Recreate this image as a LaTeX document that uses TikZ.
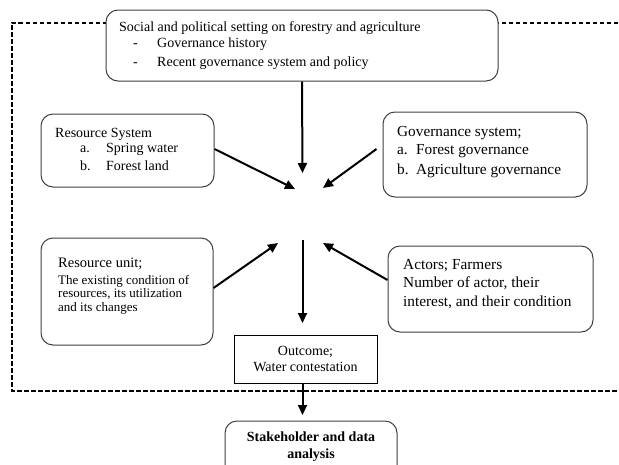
\documentclass[tikz,border=0pt]{standalone}
\usepackage{fontspec}
\setmainfont{Liberation Serif}
\usetikzlibrary{arrows.meta,calc}
\tikzset{
  rbox/.style={draw=black!75, line width=1pt, rounded corners=12pt, fill=white, inner sep=0pt},
  sbox/.style={draw=black, line width=1pt, fill=white, inner sep=0pt},
  txt/.style={anchor=base west, inner sep=0pt, font=\fontsize{14}{16}\selectfont},
  txtb/.style={anchor=base west, inner sep=0pt, font=\fontsize{15.3}{17}\selectfont},
  txts/.style={anchor=base west, inner sep=0pt, font=\fontsize{13}{15}\selectfont},
  ctxt/.style={anchor=base, inner sep=0pt, font=\fontsize{14}{16}\selectfont},
  arr/.style={line width=2pt, -{Triangle[length=10pt,width=9pt]}},
  frame/.style={line width=2pt, dash pattern=on 4.5pt off 2.5pt}
}
\begin{document}
\begin{tikzpicture}[x=1pt,y=-1pt]
\useasboundingbox (0,0) rectangle (619,464);
\clip (0,0) rectangle (619,464);
% dashed frame
\coordinate (fTR) at (625,22.7);
\coordinate (fTL) at (11.5,22.7);
\coordinate (fBL) at (11.5,390.5);
\coordinate (fBR) at (625,390.5);
\draw[frame] (fTR) -- (fTL) -- (fBL) -- (fBR);
% boxes
\node[rbox, minimum width=392pt, minimum height=71pt] (top) at (302,45.5) {};
\node[rbox, minimum width=173pt, minimum height=73pt] (rs) at (127.5,150.5) {};
\node[rbox, minimum width=204pt, minimum height=85pt] (gov) at (485,154.5) {};
\node[rbox, minimum width=172pt, minimum height=107pt] (ru) at (127,291.5) {};
\node[rbox, minimum width=205pt, minimum height=86pt] (act) at (490.5,289) {};
\node[sbox, minimum width=143pt, minimum height=48pt] (out) at (305.5,359) {};
\node[rbox, minimum width=172pt, minimum height=60pt] (stk) at (311,451) {};
% texts: top box
\node[txt] (t1) at (119,31.5) {Social and political setting on forestry and agriculture};
\node[txt] (t2d) at (133,47.5) {-};
\node[txt] (t2) at (157,47.5) {Governance history};
\node[txt] (t3d) at (133,66.5) {-};
\node[txt] (t3) at (157,66.5) {Recent governance system and policy};
% resource system
\node[txt] (r1) at (55,137.5) {Resource System};
\node[txt] (r2a) at (80,152.5) {a.};
\node[txt] (r2) at (106,152.5) {Spring water};
\node[txt] (r3a) at (80,170.5) {b.};
\node[txt] (r3) at (106,170.5) {Forest land};
% governance system
\node[txtb] (g1) at (397,136.5) {Governance system;};
\node[txtb] (g2a) at (397,154.5) {a.};
\node[txtb] (g2) at (416,154.5) {Forest governance};
\node[txtb] (g3a) at (397,174.5) {b.};
\node[txtb] (g3) at (416,174.5) {Agriculture governance};
% resource unit
\node[txt, font=\fontsize{14.5}{16}\selectfont] (u1) at (58,267.5) {Resource unit;};
\node[txts] (u2) at (58,284) {The existing condition of};
\node[txts] (u3) at (58,297.5) {resources, its utilization};
\node[txts] (u4) at (58,311) {and its changes};
% actors
\node[txtb] (a1) at (403,269.5) {Actors; Farmers};
\node[txtb] (a2) at (403,287.5) {Number of actor, their};
\node[txtb] (a3) at (403,306.5) {interest, and their condition};
% outcome
\node[ctxt] (o1) at (305.5,355.5) {Outcome;};
\node[ctxt] (o2) at (305.5,371.5) {Water contestation};
% stakeholder
\node[ctxt, font=\fontsize{14}{16}\selectfont\bfseries] (s1) at (311,441.5) {Stakeholder and data};
\node[ctxt, font=\fontsize{14}{16}\selectfont\bfseries] (s2) at (311,458.5) {analysis};
% arrow targets
\coordinate (tipTop) at (302.5,173);
\coordinate (tipL) at (295,189);
\coordinate (tipR) at (323,188);
\coordinate (tipUL) at (278,243);
\coordinate (tipUR) at (323,243);
\coordinate (downS) at (302.5,240);
\coordinate (downE) at (302.5,323);
\coordinate (outS) at (302.5,383);
\coordinate (tipS) at (302.5,415);
% connectors
\draw[arr] (top.south) -- (tipTop);
\draw[arr] ([yshift=1.5pt]rs.east) -- (tipL);
\draw[arr] ([xshift=-6pt,yshift=5.5pt]gov.west) -- (tipR);
\draw[arr] ([yshift=3.5pt]ru.east) -- (tipUL);
\draw[arr] ([yshift=9pt]act.west) -- (tipUR);
\draw[arr] (downS) -- (downE);
\draw[arr] (outS) -- (tipS);
\end{tikzpicture}
\end{document}
